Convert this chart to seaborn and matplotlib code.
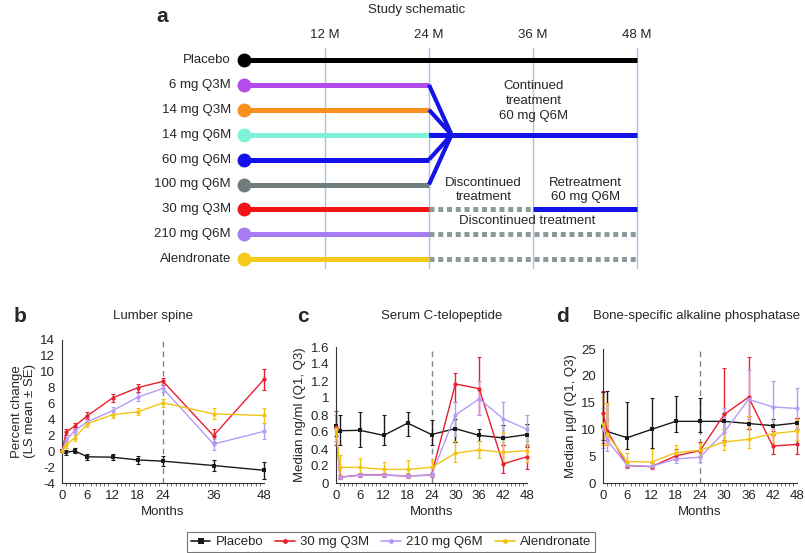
import numpy as np
import pandas as pd
import matplotlib
matplotlib.use("Agg")
import matplotlib.pyplot as plt
import seaborn as sns
from matplotlib.lines import Line2D
from matplotlib.ticker import FuncFormatter, MultipleLocator

# ---------------- data ----------------
# Panel a (study schematic)
arms = ["Placebo", "6 mg Q3M", "14 mg Q3M", "14 mg Q6M", "60 mg Q6M",
        "100 mg Q6M", "30 mg Q3M", "210 mg Q6M", "Alendronate"]
arm_colors = ["#000000", "#B24CEB", "#F7901E", "#7DF2D6", "#1212E8",
              "#6F7D7D", "#F01414", "#A57CF2", "#F7C91C"]
schematic_months = [12, 24, 36, 48]
start_month = 2.65
phase1_end = [48, 24, 24, 24, 24, 24, 24, 24, 24]
continued_arms = ["6 mg Q3M", "14 mg Q3M", "14 mg Q6M", "60 mg Q6M", "100 mg Q6M"]
merge_month = 26.6
retreat_start = 36

# Panel b: lumbar spine, percent change (LS mean +/- SE)
months_b = [0, 1, 3, 6, 12, 18, 24, 36, 48]
placebo_b = [0, -0.15, 0.05, -0.7, -0.75, -1.1, -1.25, -1.8, -2.4]
placebo_b_se = [0, 0.3, 0.3, 0.35, 0.35, 0.45, 0.65, 0.75, 1.1]
q3m30_b = [0, 2.4, 3.15, 4.45, 6.7, 8.0, 8.8, 1.95, 9.05]
q3m30_b_se = [0, 0.4, 0.4, 0.45, 0.45, 0.5, 0.45, 0.8, 1.3]
q6m210_b = [0, 1.4, 2.6, 3.7, 5.1, 6.8, 7.9, 0.9, 2.5]
q6m210_b_se = [0, 0.4, 0.4, 0.45, 0.45, 0.5, 0.5, 0.7, 1.0]
alen_b = [0, 0.8, 1.65, 3.45, 4.6, 4.95, 6.1, 4.7, 4.5]
alen_b_se = [0, 0.35, 0.35, 0.4, 0.45, 0.45, 0.5, 0.7, 1.0]

# Panel c: serum C-telopeptide, median (Q1, Q3)
months_cd = [0, 1, 6, 12, 18, 24, 30, 36, 42, 48]
placebo_c = [0.67, 0.615, 0.62, 0.56, 0.705, 0.57, 0.64, 0.56, 0.53, 0.57]
placebo_c_q1 = [0.55, 0.45, 0.42, 0.45, 0.55, 0.45, 0.48, 0.50, 0.45, 0.42]
placebo_c_q3 = [0.80, 0.80, 0.84, 0.80, 0.84, 0.74, 0.75, 0.64, 0.68, 0.70]
q3m30_c = [0.655, 0.067, 0.094, 0.094, 0.082, 0.094, 1.165, 1.11, 0.224, 0.31]
q3m30_c_q1 = [0.45, 0.05, 0.07, 0.07, 0.06, 0.07, 0.95, 0.80, 0.12, 0.17]
q3m30_c_q3 = [0.85, 0.10, 0.12, 0.12, 0.11, 0.12, 1.30, 1.48, 0.45, 0.45]
q6m210_c = [0.64, 0.07, 0.09, 0.09, 0.085, 0.09, 0.80, 0.99, 0.757, 0.63]
q6m210_c_q1 = [0.50, 0.05, 0.07, 0.07, 0.06, 0.07, 0.55, 0.80, 0.55, 0.50]
q6m210_c_q3 = [0.80, 0.10, 0.12, 0.12, 0.12, 0.12, 0.95, 1.20, 0.95, 0.80]
alen_c = [0.63, 0.184, 0.184, 0.16, 0.16, 0.184, 0.35, 0.39, 0.36, 0.38]
alen_c_q1 = [0.50, 0.10, 0.10, 0.10, 0.10, 0.10, 0.25, 0.29, 0.25, 0.25]
alen_c_q3 = [0.80, 0.33, 0.30, 0.25, 0.27, 0.28, 0.50, 0.50, 0.60, 0.55]

# Panel d: bone-specific alkaline phosphatase, median (Q1, Q3)
placebo_d = [10.7, 9.6, 8.45, 10.0, 11.5, 11.5, 11.5, 11.1, 10.7, 11.2]
placebo_d_q1 = [8.0, 8.0, 6.4, 6.5, 9.5, 9.5, 10.0, 10.0, 9.0, 10.0]
placebo_d_q3 = [17.0, 17.2, 15.2, 15.8, 16.2, 15.8, 13.0, 12.5, 12.0, 12.2]
q3m30_d = [13.0, 9.75, 3.25, 3.05, 5.05, 6.05, 12.8, 16.0, 6.9, 7.2]
q3m30_d_q1 = [7.5, 7.0, 2.8, 2.6, 4.3, 5.0, 8.0, 10.0, 5.5, 5.5]
q3m30_d_q3 = [17.2, 15.0, 4.0, 3.8, 6.4, 7.6, 21.5, 23.5, 9.7, 12.2]
q6m210_d = [10.2, 8.0, 3.3, 3.1, 4.5, 4.8, 9.5, 15.6, 14.2, 13.9]
q6m210_d_q1 = [6.5, 6.0, 2.8, 2.6, 3.8, 4.0, 7.0, 12.0, 10.0, 10.0]
q6m210_d_q3 = [14.0, 12.0, 4.0, 3.8, 5.5, 6.0, 14.0, 21.0, 19.0, 17.8]
alen_d = [11.0, 9.1, 4.0, 3.9, 5.65, 6.1, 7.65, 8.15, 9.2, 9.7]
alen_d_q1 = [7.0, 7.0, 3.0, 3.0, 4.5, 5.0, 6.2, 6.5, 7.5, 8.0]
alen_d_q3 = [16.0, 15.0, 5.6, 6.3, 7.0, 7.5, 10.0, 12.5, 11.0, 12.0]

series_names = ["Placebo", "30 mg Q3M", "210 mg Q6M", "Alendronate"]
series_colors = ["#1a1a1a", "#E8202E", "#B49CF6", "#F2C414"]
series_markers = ["s", "o", "o", "o"]

xticks_b = [0, 6, 12, 18, 24, 36, 48]
xticks_cd = [0, 6, 12, 18, 24, 30, 36, 42, 48]

# ---------------- style ----------------
sns.set_style("white")
plt.rcParams["font.family"] = ["Liberation Sans", "DejaVu Sans"]
plt.rcParams["font.size"] = 9

W, H = 805, 553
fig = plt.figure(figsize=(W / 100, H / 100), dpi=100)


def fx(px):
    return px / W


def fy(py):
    return 1 - py / H


# ---------------- panel a ----------------
ax_a = fig.add_axes([fx(140), fy(275), fx(560), (275 - 40) / H])
px_per_month = 104 / 12.0
ax_a.set_xlim((140 - 221) / px_per_month, (700 - 221) / px_per_month)
row_px = 24.9
ax_a.set_ylim((275 - 60) / row_px, (40 - 60) / row_px)
ax_a.axis("off")

for m in schematic_months:
    ax_a.plot([m, m], [-0.48, 8.35], color="#A4C6E8", lw=1.0, zorder=1)
    ax_a.text(m, -1.0, f"{m} M", ha="center", va="center", fontsize=9.5)

blue = "#1414E8"
grey_dot = "#8D9A9A"
LW = 3.6
for r, (name, col, end) in enumerate(zip(arms, arm_colors, phase1_end)):
    ax_a.plot([start_month, end], [r, r], color=col, lw=LW,
              solid_capstyle="butt", zorder=3)
    ax_a.plot([start_month], [r], "o", color=col, ms=9, zorder=4)
    ax_a.text(1.15, r, name, ha="right", va="center", fontsize=9.5)

merge_row = arms.index("14 mg Q6M")
for name in continued_arms:
    r = arms.index(name)
    ax_a.plot([24, merge_month], [r, merge_row], color=blue, lw=3.0,
              solid_capstyle="butt", zorder=3)
ax_a.plot([24, 48], [merge_row, merge_row], color=blue, lw=LW,
          solid_capstyle="butt", zorder=3)

r30 = arms.index("30 mg Q3M")
ax_a.plot([24, retreat_start], [r30, r30], color=grey_dot, lw=LW,
          ls=(0, (1.0, 0.75)), dash_capstyle="butt", zorder=2)
ax_a.plot([retreat_start, 48], [r30, r30], color=blue, lw=LW,
          solid_capstyle="butt", zorder=3)
for name in ["210 mg Q6M", "Alendronate"]:
    r = arms.index(name)
    ax_a.plot([24, 48], [r, r], color=grey_dot, lw=LW,
              ls=(0, (1.0, 0.75)), dash_capstyle="butt", zorder=2)

ax_a.text(36.1, 1.65, "Continued\ntreatment\n60 mg Q6M", ha="center",
          va="center", fontsize=9.5, linespacing=1.3)
ax_a.text(30.3, 5.22, "Discontinued\ntreatment", ha="center", va="center",
          fontsize=9.5, linespacing=1.3)
ax_a.text(42.1, 5.22, "Retreatment\n60 mg Q6M", ha="center", va="center",
          fontsize=9.5, linespacing=1.3)
ax_a.text(35.3, 6.47, "Discontinued treatment", ha="center", va="center",
          fontsize=9.5)

fig.text(fx(417), fy(10), "Study schematic", ha="center", va="center",
         fontsize=9.5)
fig.text(fx(162), fy(16), "a", ha="center", va="center", fontsize=15,
         fontweight="bold")

# ---------------- panels b-d ----------------
def style_axis(ax, xticks, ylim, ystep):
    ax.set_xlim(0, 48)
    ax.set_ylim(*ylim)
    ax.set_xticks(xticks)
    ax.set_yticks(np.arange(ylim[0], ylim[1] + ystep / 2, ystep))
    ax.xaxis.set_minor_locator(MultipleLocator(1))
    ax.yaxis.set_major_formatter(FuncFormatter(lambda v, _: f"{round(v, 2):g}"))
    for s in ["top", "right"]:
        ax.spines[s].set_visible(False)
    for s in ["left", "bottom"]:
        ax.spines[s].set_color("#333333")
        ax.spines[s].set_linewidth(0.8)
    ax.tick_params(axis="both", which="major", length=3, width=0.7,
                   direction="out", labelsize=9.5, pad=2, color="#333333")
    ax.tick_params(axis="x", which="minor", length=2, width=0.6,
                   direction="out", color="#555555", bottom=True)
    ax.axvline(24, color="#7A8A8A", lw=1.0, ls=(0, (4, 3)), zorder=0)
    ax.set_xlabel("Months", fontsize=9.5, labelpad=3)
    ax.grid(False)


def draw_series(ax, x, ys, lo, hi):
    for name, col, mk, y, l, h in zip(series_names, series_colors,
                                      series_markers, ys, lo, hi):
        y = np.asarray(y)
        df = pd.DataFrame({"Months": x, "value": y})
        eb = ax.errorbar(x, y, yerr=[y - np.asarray(l), np.asarray(h) - y],
                         fmt="none", ecolor=col, elinewidth=1.0, capsize=1.2,
                         capthick=0.8, zorder=2)
        for art in eb.lines[1] + eb.lines[2]:
            art.set_clip_on(False)
        sns.lineplot(data=df, x="Months", y="value", ax=ax, color=col,
                     marker=mk, markersize=3.5 if mk == "s" else 3,
                     markeredgewidth=0, lw=1.0, zorder=3, legend=False,
                     clip_on=False)


# panel b
ax_b = fig.add_axes([fx(62), fy(483), fx(202), 143 / H])
ys = [placebo_b, q3m30_b, q6m210_b, alen_b]
ses = [placebo_b_se, q3m30_b_se, q6m210_b_se, alen_b_se]
lo = [np.array(y) - np.array(s) for y, s in zip(ys, ses)]
hi = [np.array(y) + np.array(s) for y, s in zip(ys, ses)]
draw_series(ax_b, months_b, ys, lo, hi)
style_axis(ax_b, xticks_b, (-4, 14), 2)
ax_b.set_ylabel("Percent change\n(LS mean \u00b1 SE)", fontsize=9.5,
                labelpad=3, linespacing=1.1)

# panel c
ax_c = fig.add_axes([fx(336), fy(483), fx(191), 136 / H])
draw_series(ax_c, months_cd,
            [placebo_c, q3m30_c, q6m210_c, alen_c],
            [placebo_c_q1, q3m30_c_q1, q6m210_c_q1, alen_c_q1],
            [placebo_c_q3, q3m30_c_q3, q6m210_c_q3, alen_c_q3])
style_axis(ax_c, xticks_cd, (0, 1.6), 0.2)
ax_c.set_ylabel("Median ng/ml (Q1, Q3)", fontsize=9.5, labelpad=3)

# panel d
ax_d = fig.add_axes([fx(603), fy(483), fx(194), 134 / H])
draw_series(ax_d, months_cd,
            [placebo_d, q3m30_d, q6m210_d, alen_d],
            [placebo_d_q1, q3m30_d_q1, q6m210_d_q1, alen_d_q1],
            [placebo_d_q3, q3m30_d_q3, q6m210_d_q3, alen_d_q3])
style_axis(ax_d, xticks_cd, (0, 25), 5)
ax_d.set_ylabel("Median \u00b5g/l (Q1, Q3)", fontsize=9.5, labelpad=3)

# titles and panel letters
fig.text(fx(153), fy(316), "Lumber spine", ha="center", va="center", fontsize=9.5)
fig.text(fx(442), fy(316), "Serum C-telopeptide", ha="center", va="center",
         fontsize=9.5)
fig.text(fx(697), fy(316), "Bone-specific alkaline phosphatase", ha="center",
         va="center", fontsize=9.5)
for letter, xp in [("b", 20), ("c", 303), ("d", 562)]:
    fig.text(fx(xp), fy(316), letter, ha="center", va="center", fontsize=15,
             fontweight="bold")

# legend
handles = [Line2D([0], [0], color=c, marker=m, ms=4 if m == "s" else 3.5,
                  markeredgewidth=0, lw=1.2)
           for c, m in zip(series_colors, series_markers)]
leg = fig.legend(handles, series_names, loc="center",
                 bbox_to_anchor=(fx(391), fy(542)), ncol=4, fontsize=9.5,
                 frameon=True, fancybox=False, handlelength=1.5,
                 handletextpad=0.4, columnspacing=0.9, borderpad=0.3,
                 borderaxespad=0)
leg.get_frame().set_edgecolor("#555555")
leg.get_frame().set_linewidth(0.8)

fig.savefig("out.png", dpi=100)
